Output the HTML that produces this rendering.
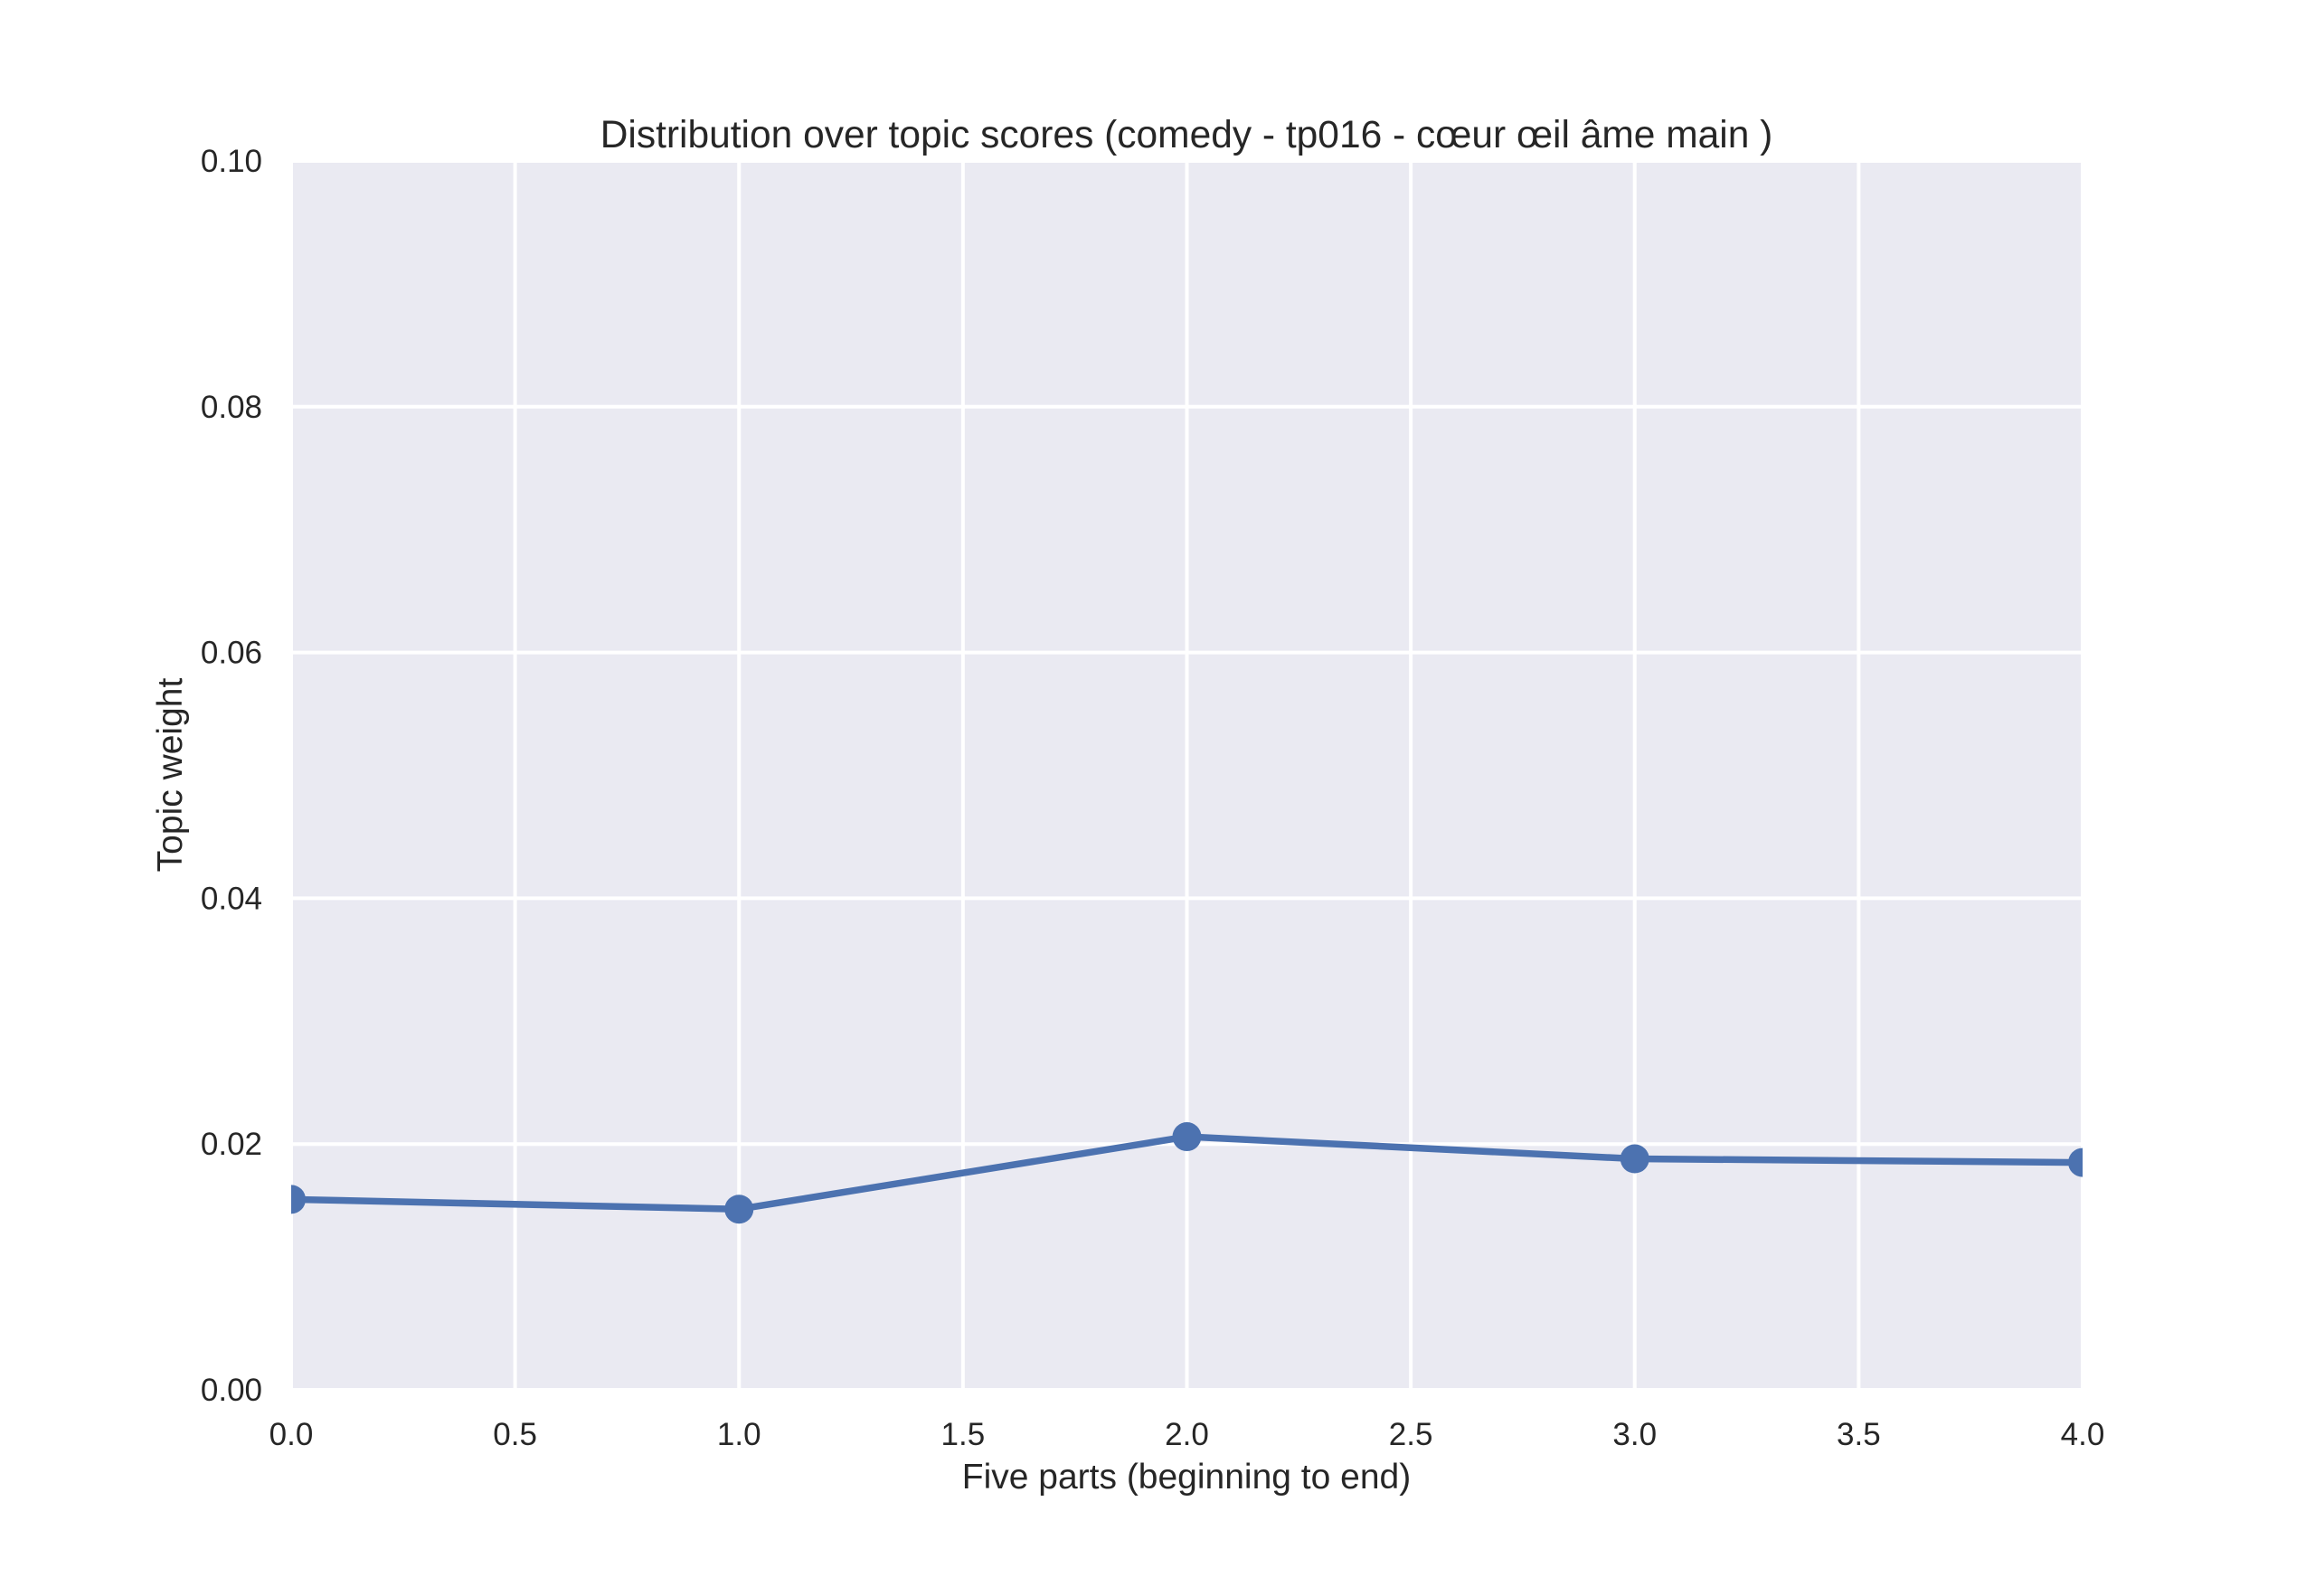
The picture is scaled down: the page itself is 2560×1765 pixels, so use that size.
<!DOCTYPE html>
<html><head><meta charset="utf-8"><style>
html,body{margin:0;padding:0;background:#fff}
svg text{font-family:"Liberation Sans",Arial,sans-serif;fill:#262626}
</style></head><body>
<svg id="chart" width="2560" height="1760" xmlns="http://www.w3.org/2000/svg">
<defs><clipPath id="clip"><rect x="322" y="178" width="1981" height="1359"/></clipPath></defs>
<rect x="322" y="178" width="1981" height="1359" fill="#eaeaf2"/>
<g id="grid"></g>
<g id="series" clip-path="url(#clip)"></g>
<g id="ticks"></g>
<text x="1312" y="163" font-size="42.5" text-anchor="middle">Distribution over topic scores (comedy - tp016 - cœur œil âme main )</text>
<text x="1312" y="1646" font-size="39" text-anchor="middle">Five parts (beginning to end)</text>
<text x="0" y="0" font-size="39" text-anchor="middle" transform="translate(201,857) rotate(-90)">Topic weight</text>
</svg>
<script>
const xValues = [0, 1, 2, 3, 4];
const yValues = [0.0155, 0.0147, 0.0206, 0.0188, 0.0185];
const xTicks = [0, 0.5, 1, 1.5, 2, 2.5, 3, 3.5, 4];
const xTickLabels = ["0.0","0.5","1.0","1.5","2.0","2.5","3.0","3.5","4.0"];
const yTicks = [0, 0.02, 0.04, 0.06, 0.08, 0.10];
const yTickLabels = ["0.00","0.02","0.04","0.06","0.08","0.10"];

const L=322,R=2303,T=178,B=1537, xMin=0,xMax=4,yMin=0,yMax=0.1;
const sx=v=>L+(v-xMin)/(xMax-xMin)*(R-L);
const sy=v=>B-(v-yMin)/(yMax-yMin)*(B-T);
const NS="http://www.w3.org/2000/svg";
function mk(tag,attrs,parent){const e=document.createElementNS(NS,tag);for(const k in attrs)e.setAttribute(k,attrs[k]);parent.appendChild(e);return e;}
const grid=document.getElementById('grid'),ticks=document.getElementById('ticks'),series=document.getElementById('series');
xTicks.forEach((v,i)=>{
  const g=mk('line',{x1:sx(v),x2:sx(v),y1:T,y2:B,stroke:'#fff','stroke-width':4},grid);
  
  
  const t=mk('text',{x:sx(v),y:1598,'font-size':35,'text-anchor':'middle'},ticks);
  t.textContent=xTickLabels[i];
  
  
});
yTicks.forEach((v,i)=>{
  const g=mk('line',{x1:L,x2:R,y1:sy(v),y2:sy(v),stroke:'#fff','stroke-width':4},grid);
  
  
  const t=mk('text',{x:290,y:sy(v)+12,'font-size':35,'text-anchor':'end'},ticks);
  t.textContent=yTickLabels[i];
  
  
});
const pts=xValues.map((x,i)=>sx(x)+','+sy(yValues[i])).join(' ');
const pl=mk('polyline',{points:pts,fill:'none',stroke:'#4c72b0','stroke-width':7.5,'stroke-linejoin':'round'},series);


xValues.forEach((x,i)=>{
  const c=mk('circle',{cx:sx(x),cy:sy(yValues[i]),r:16,fill:'#4c72b0'},series);
  
  
});
</script>
</body></html>
